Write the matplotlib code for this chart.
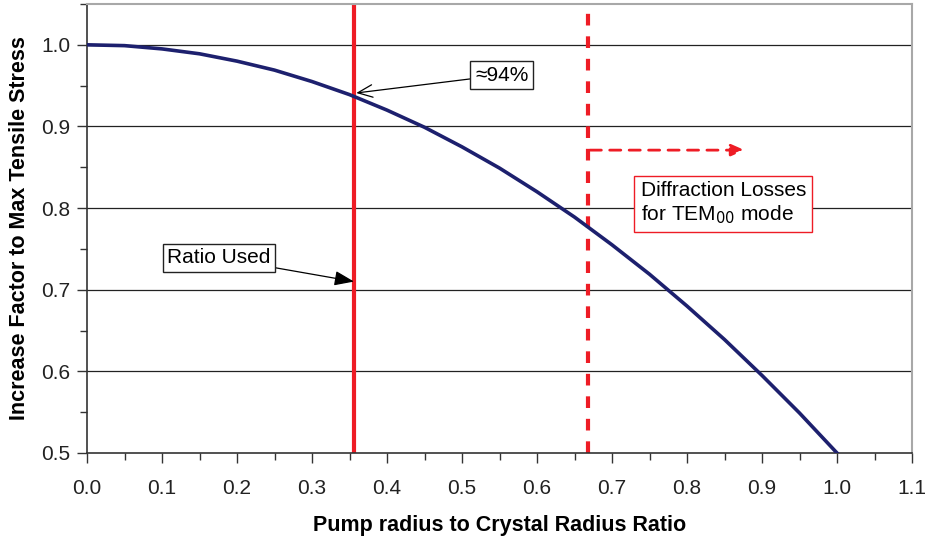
import matplotlib.pyplot as plt
from matplotlib.ticker import MultipleLocator, FormatStrFormatter

plt.rcParams['font.family'] = ['Liberation Sans', 'DejaVu Sans']

# stress factor vs pump/crystal radius ratio
ratio = [0.0, 0.05, 0.1, 0.15, 0.2, 0.25, 0.3, 0.35, 0.4, 0.45, 0.5,
         0.55, 0.6, 0.65, 0.7, 0.75, 0.8, 0.85, 0.9, 0.95, 1.0]
factor = [1.0, 0.999, 0.995, 0.989, 0.98, 0.969, 0.955, 0.939, 0.92, 0.899, 0.875,
          0.849, 0.82, 0.789, 0.755, 0.719, 0.68, 0.639, 0.595, 0.549, 0.5]

ratio_used = 0.356
tem00_limit = 0.668
loss_arrow_y = 0.871
loss_arrow_end = 0.877

navy = '#1d206e'
red = '#ee1c25'

fig = plt.figure(figsize=(9.3, 5.39), dpi=100)
ax = fig.add_axes([87 / 930, 86 / 539, 825 / 930, 449 / 539])

ax.set_xlim(0, 1.1)
ax.set_ylim(0.5, 1.05)
ax.xaxis.set_major_locator(MultipleLocator(0.1))
ax.xaxis.set_minor_locator(MultipleLocator(0.05))
ax.yaxis.set_major_locator(MultipleLocator(0.1))
ax.yaxis.set_minor_locator(MultipleLocator(0.05))
ax.xaxis.set_major_formatter(FormatStrFormatter('%.1f'))
ax.yaxis.set_major_formatter(FormatStrFormatter('%.1f'))
ax.tick_params(which='major', direction='out', length=7, width=1, colors='#333333',
               labelsize=15, labelcolor='#222222')
ax.tick_params(which='minor', direction='out', length=5, width=1, colors='#333333')
ax.tick_params(axis='x', which='major', pad=12)
ax.tick_params(axis='y', which='major', pad=5)

for y in [0.6, 0.7, 0.8, 0.9, 1.0]:
    ax.axhline(y, color='#222222', lw=0.9, zorder=1)

for side in ['top', 'right']:
    ax.spines[side].set_color('#a8a8a8')
    ax.spines[side].set_linewidth(1.5)
for side in ['left', 'bottom']:
    ax.spines[side].set_color('#333333')
    ax.spines[side].set_linewidth(1.2)

ax.plot(ratio, factor, color=navy, lw=2.6, zorder=3, solid_joinstyle='round')

ax.axvline(ratio_used, color=red, lw=3, zorder=2)
ax.axvline(tem00_limit, color=red, lw=3, linestyle=(0, (2.8, 2.6)), zorder=2)
ax.annotate('', xy=(loss_arrow_end, loss_arrow_y), xytext=(tem00_limit + 0.003, loss_arrow_y),
            arrowprops=dict(arrowstyle='-|>,head_length=0.8,head_width=0.35', color=red,
                            lw=2, linestyle=(0, (4, 3)), shrinkA=0, shrinkB=0))

box = dict(boxstyle='square,pad=0.22', fc='white', ec='#222222', lw=1)
ax.annotate('≈94%', xy=(0.359, 0.941), xytext=(0.553, 0.963),
            ha='center', va='center', fontsize=15, bbox=box, zorder=5,
            arrowprops=dict(arrowstyle='->,head_length=0.7,head_width=0.3', color='black',
                            lw=0.9, shrinkA=0, shrinkB=0))
ax.annotate('Ratio Used', xy=(ratio_used, 0.71), xytext=(0.176, 0.739),
            ha='center', va='center', fontsize=15, bbox=box, zorder=5,
            arrowprops=dict(arrowstyle='-|>,head_length=0.8,head_width=0.3', color='black',
                            lw=0.9, shrinkA=0, shrinkB=0))
ax.text(0.738, 0.806, 'Diffraction Losses\nfor TEM$_{00}$ mode', ha='left', va='center',
        fontsize=15, linespacing=1.2, zorder=5,
        bbox=dict(boxstyle='square,pad=0.3', fc='white', ec=red, lw=1))

ax.set_xlabel('Pump radius to Crystal Radius Ratio', fontsize=15.5, fontweight='bold', labelpad=12)
ax.set_ylabel('Increase Factor to Max Tensile Stress', fontsize=15.5, fontweight='bold', labelpad=8)

fig.savefig('out.png', dpi=100)
